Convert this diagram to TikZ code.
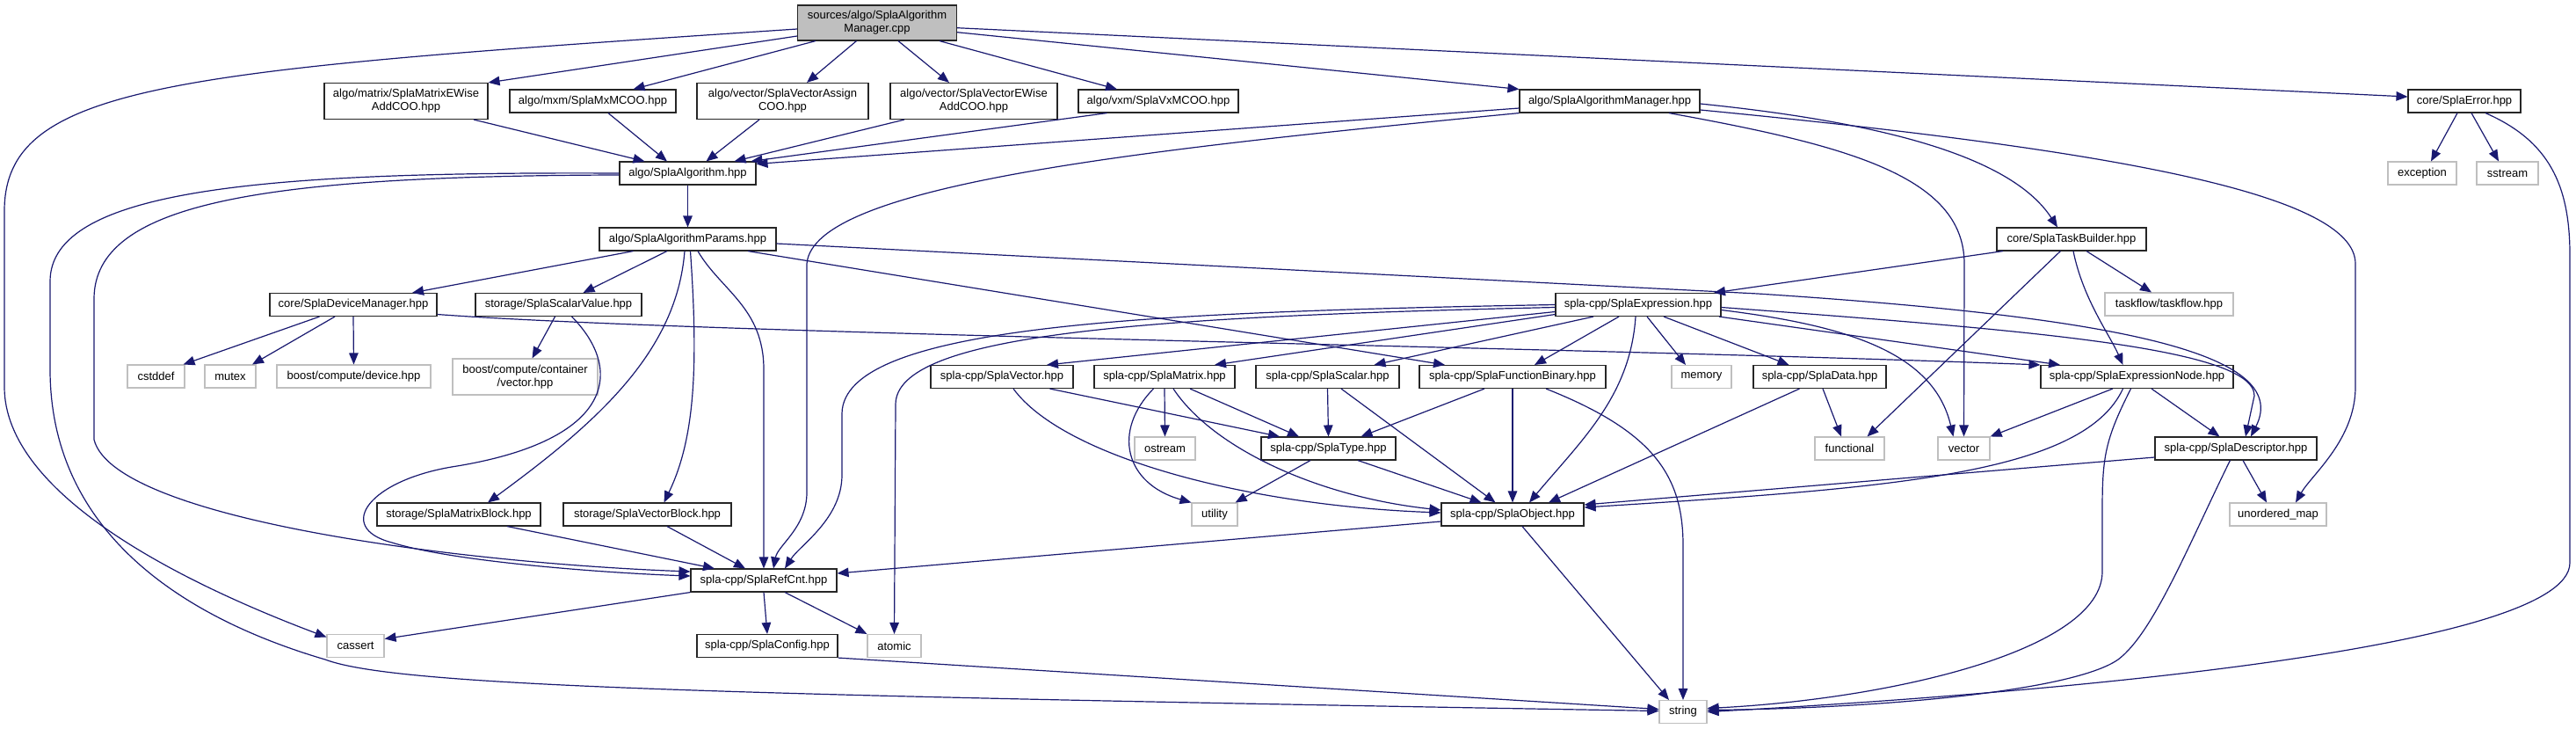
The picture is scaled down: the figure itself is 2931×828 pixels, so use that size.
\documentclass[tikz,border=0pt]{standalone}
\usepackage{fontspec}
\setmainfont{Liberation Sans}
\usetikzlibrary{arrows.meta}
\definecolor{edgec}{HTML}{191970}
\definecolor{gfill}{HTML}{BFBFBF}
\definecolor{gbord}{HTML}{BFBFBF}
\definecolor{dbord}{HTML}{262626}
\tikzset{
  base/.style={draw, font=\fontsize{13}{15}\selectfont, align=center, inner xsep=6pt, inner ysep=0pt, minimum height=26pt, line width=1.1pt, fill=white},
  hdr/.style={base, draw=dbord},
  sys/.style={base, draw=gbord},
  two/.style={minimum height=41pt},
  rootn/.style={hdr, fill=gfill, minimum height=40pt},
  e/.style={draw=edgec, line width=1.2pt, -{Triangle[length=13pt,width=10.5pt]}}
}
\begin{document}
\begin{tikzpicture}[x=1pt,y=-1pt]
\fill[white] (0,0) rectangle (2931,828);
\useasboundingbox (0,0) rectangle (2931,828);
% nodes
\node[rootn, minimum width=181pt] (root) at (998,26) {sources/algo/SplaAlgorithm\\Manager.cpp};
\node[hdr, two, minimum width=186pt] (mew) at (462,115) {algo/matrix/SplaMatrixEWise\\AddCOO.hpp};
\node[hdr, minimum width=189pt] (mxm) at (674.5,115) {algo/mxm/SplaMxMCOO.hpp};
\node[hdr, two, minimum width=195pt] (vas) at (890.5,115) {algo/vector/SplaVectorAssign\\COO.hpp};
\node[hdr, two, minimum width=190pt] (vew) at (1108,115) {algo/vector/SplaVectorEWise\\AddCOO.hpp};
\node[hdr, minimum width=182pt] (vxm) at (1318,115) {algo/vxm/SplaVxMCOO.hpp};
\node[hdr, minimum width=205pt] (mgr) at (1831.5,115) {algo/SplaAlgorithmManager.hpp};
\node[hdr, minimum width=128pt] (err) at (2804,115) {core/SplaError.hpp};
\node[hdr, minimum width=155pt] (alg) at (782.5,197) {algo/SplaAlgorithm.hpp};
\node[sys, minimum width=78pt] (exc) at (2756,197) {exception};
\node[sys, minimum width=70pt] (sst) at (2853,197) {sstream};
\node[hdr, minimum width=170pt] (tb) at (2357,272) {core/SplaTaskBuilder.hpp};
\node[hdr, minimum width=201pt] (par) at (782.5,272) {algo/SplaAlgorithmParams.hpp};
\node[hdr, minimum width=190pt] (dm) at (402,346.5) {core/SplaDeviceManager.hpp};
\node[hdr, minimum width=189pt] (sv) at (635.5,346.5) {storage/SplaScalarValue.hpp};
\node[sys, minimum width=65pt] (csd) at (177.5,428) {cstddef};
\node[sys, minimum width=58pt] (mtx) at (262,428) {mutex};
\node[sys, minimum width=175pt] (bcd) at (402.5,428) {boost/compute/device.hpp};
\node[sys, two, minimum width=165pt] (bcv) at (597.5,428.5) {boost/compute/container\\/vector.hpp};
\node[hdr, minimum width=188pt] (expr) at (1864,346.5) {spla-cpp/SplaExpression.hpp};
\node[sys, minimum width=146pt] (tf) at (2468,346) {taskflow/taskflow.hpp};
\node[hdr, minimum width=162pt] (vec) at (1140,428.5) {spla-cpp/SplaVector.hpp};
\node[hdr, minimum width=160pt] (mat) at (1325,428.5) {spla-cpp/SplaMatrix.hpp};
\node[hdr, minimum width=163pt] (sca) at (1510.5,428.5) {spla-cpp/SplaScalar.hpp};
\node[hdr, minimum width=212pt] (fb) at (1721,428.5) {spla-cpp/SplaFunctionBinary.hpp};
\node[sys, minimum width=68pt] (mem) at (1936,428.5) {memory};
\node[hdr, minimum width=151pt] (dat) at (2070.5,428.5) {spla-cpp/SplaData.hpp};
\node[hdr, minimum width=219pt] (en) at (2431.5,428.5) {spla-cpp/SplaExpressionNode.hpp};
\node[sys, minimum width=69pt] (ost) at (1325.5,510) {ostream};
\node[hdr, minimum width=153pt] (typ) at (1511.5,510) {spla-cpp/SplaType.hpp};
\node[sys, minimum width=79pt] (fun) at (2104.5,510) {functional};
\node[sys, minimum width=59pt] (vct) at (2234.5,510) {vector};
\node[hdr, minimum width=184pt] (desc) at (2544,510) {spla-cpp/SplaDescriptor.hpp};
\node[hdr, minimum width=186pt] (mb) at (522,585) {storage/SplaMatrixBlock.hpp};
\node[hdr, minimum width=191pt] (vb) at (736.5,585) {storage/SplaVectorBlock.hpp};
\node[sys, minimum width=52pt] (uti) at (1382,585) {utility};
\node[hdr, minimum width=162pt] (obj) at (1721,585) {spla-cpp/SplaObject.hpp};
\node[sys, minimum width=110pt] (um) at (2592,585) {unordered\_map};
\node[hdr, minimum width=166pt] (rc) at (869,660) {spla-cpp/SplaRefCnt.hpp};
\node[sys, minimum width=65pt] (cas) at (404.5,734.5) {cassert};
\node[hdr, minimum width=160pt] (cfg) at (873,734.5) {spla-cpp/SplaConfig.hpp};
\node[sys, minimum width=61pt] (ato) at (1017.5,734.5) {atomic};
\node[sys, minimum width=54pt] (str) at (1915,809.5) {string};
% edges from root
\draw[e] ([yshift=-7]root.west) .. controls (200,80) and (5,95) .. (5,240) -- (5,440) .. controls (5,560) and (200,660) .. ([yshift=10]cas.west);
\draw[e] ([yshift=-15]root.west) -- (mew.north east);
\draw[e] ([xshift=-70]root.south) -- ([xshift=46]mxm.north);
\draw[e] ([xshift=-23.5]root.south) -- ([xshift=27.5]vas.north);
\draw[e] ([xshift=24]root.south) -- ([xshift=-28]vew.north);
\draw[e] ([xshift=71]root.south) -- ([xshift=-47]vxm.north);
\draw[e] ([yshift=-10.7]root.east) -- (mgr.north west);
\draw[e] ([yshift=-5.7]root.east) -- ([yshift=5]err.west);
% into SplaAlgorithm
\draw[e] ([xshift=77]mew.south) -- ([xshift=-49]alg.north);
\draw[e] ([xshift=17.5]mxm.south) -- ([xshift=-23.5]alg.north);
\draw[e] ([xshift=-26.5]vas.south) -- ([xshift=21]alg.north);
\draw[e] ([xshift=-79]vew.south) -- ([xshift=53]alg.north);
\draw[e] ([xshift=-58.5]vxm.south) -- ([xshift=72]alg.north);
\draw[e] ([yshift=-8]mgr.west) -- ([yshift=-3]alg.north east);
% manager
\draw[e] (mgr.south west) .. controls (1300,170) and (925,210) .. (918,300) -- (918,560) .. controls (918,600) and (885,620) .. ([xshift=11]rc.north);
\draw[e] ([yshift=-3]mgr.east) .. controls (2150,140) and (2290,180) .. ([xshift=-16]tb.north);
\draw[e] ([xshift=67.5]mgr.south) .. controls (2100,165) and (2235,200) .. (2235,300) -- (vct.north);
\draw[e] ([yshift=-10]mgr.east) .. controls (2400,170) and (2680,220) .. (2680,300) -- (2680,440) .. controls (2680,500) and (2630,540) .. ([xshift=20]um.north);
% error
\draw[e] ([xshift=-8]err.south) -- ([xshift=10]exc.north);
\draw[e] ([xshift=8]err.south) -- ([xshift=-10]sst.north);
\draw[e] ([xshift=24]err.south) .. controls (2900,160) and (2924,210) .. (2924,290) -- (2924,640) .. controls (2924,740) and (2300,790) .. (str.east);
% algorithm
\draw[e] (alg.south) -- (par.north);
\draw[e] ([yshift=-2]alg.west) .. controls (300,200) and (107,230) .. (107,340) -- (107,500) .. controls (130,590) and (520,640) .. ([yshift=10]rc.west);
\draw[e] (alg.west) .. controls (300,195) and (57,215) .. (57,320) -- (57,420) .. controls (57,600) and (200,700) .. (370,750) .. controls (450,780) and (800,790) .. ([yshift=1]str.west);
% params
\draw[e] ([xshift=-62]par.south) -- ([xshift=67]dm.north);
\draw[e] ([xshift=-23.5]par.south) -- ([xshift=28]sv.north);
\draw[e] ([xshift=-3.5]par.south) .. controls (770,400) and (680,480) .. ([xshift=33]mb.north);
\draw[e] ([xshift=3]par.south) .. controls (795,420) and (790,500) .. ([xshift=19]vb.north);
\draw[e] ([xshift=11.5]par.south) .. controls (820,330) and (869,350) .. (869,420) -- (rc.north);
\draw[e] ([xshift=68.5]par.south) -- ([xshift=-77]fb.north);
\draw[e] ([yshift=-5]par.east) -- (2000,334) .. controls (2400,360) and (2610,400) .. ([xshift=17]desc.north);
% device manager
\draw[e] ([xshift=-38.5]dm.south) -- ([xshift=-2]csd.north east);
\draw[e] ([xshift=-21]dm.south) -- ([xshift=25]mtx.north);
\draw[e] (dm.south) -- (bcd.north);
\draw[e] ([yshift=-11]dm.east) .. controls (800,380) and (1800,395) .. (en.north west);
% scalar value
\draw[e] ([xshift=-4]sv.south) -- ([xshift=8]bcv.north);
\draw[e] ([xshift=15]sv.south) .. controls (710,420) and (700,500) .. (520,530) .. controls (420,545) and (380,600) .. (446,617) .. controls (520,640) and (700,652) .. ([yshift=5]rc.west);
% task builder
\draw[e] ([xshift=-78]tb.south) -- ([xshift=86]expr.north);
\draw[e] ([xshift=17]tb.south) -- ([xshift=-20]tf.north);
\draw[e] ([xshift=-12.6]tb.south) -- ([xshift=20]fun.north);
\draw[e] ([xshift=2]tb.south) .. controls (2370,340) and (2400,380) .. ([xshift=-16]en.north);
% expression
\draw[e] ([yshift=-8]expr.west) -- ([xshift=51]vec.north);
\draw[e] ([yshift=-11]expr.west) -- ([xshift=57]mat.north);
\draw[e] ([xshift=-51]expr.south) -- ([xshift=53]sca.north);
\draw[e] ([xshift=-22]expr.south) -- ([xshift=25]fb.north);
\draw[e] ([xshift=10]expr.south) -- ([xshift=-18]mem.north);
\draw[e] ([xshift=29]expr.south) -- ([xshift=-35]dat.north);
\draw[e] ([xshift=92]expr.south) -- ([xshift=-87.5]en.north);
\draw[e] ([yshift=-3]expr.east) .. controls (2300,375) and (2565,395) .. (2565,450) -- ([xshift=11]desc.north);
\draw[e] ([yshift=-6]expr.east) .. controls (2100,370) and (2200,400) .. ([xshift=-12]vct.north);
\draw[e] ([xshift=-3]expr.south) .. controls (1855,450) and (1800,500) .. ([xshift=19]obj.north);
\draw[e] (expr.west) .. controls (1300,355) and (960,370) .. (958,470) -- (958,540) .. controls (958,590) and (910,620) .. ([xshift=24]rc.north);
\draw[e] ([yshift=-3]expr.west) .. controls (1300,360) and (1019,380) .. (1019,460) -- (ato.north);
% vector, matrix, scalar, function
\draw[e] ([xshift=54.5]vec.south) -- ([xshift=-55.5]typ.north);
\draw[e] ([xshift=13]vec.south) .. controls (1210,520) and (1420,575) .. ([yshift=2]obj.west);
\draw[e] (mat.south) -- (ost.north);
\draw[e] ([xshift=29]mat.south) -- ([xshift=-33.5]typ.north);
\draw[e] ([xshift=-12.5]mat.south) .. controls (1265,490) and (1280,550) .. (uti.north west);
\draw[e] ([xshift=10]mat.south) .. controls (1380,510) and (1500,565) .. ([yshift=5]obj.west);
\draw[e] (sca.south) -- (typ.north);
\draw[e] ([xshift=15.5]sca.south) -- ([xshift=-19.5]obj.north);
\draw[e] ([xshift=-32]fb.south) -- ([xshift=37]typ.north);
\draw[e] (fb.south) -- (obj.north);
\draw[e] ([xshift=38]fb.south) .. controls (1880,490) and (1915,540) .. (1915,620) -- (str.north);
% data, expression node
\draw[e] ([xshift=3.5]dat.south) -- ([xshift=-9.5]fun.north);
\draw[e] ([xshift=-23]dat.south) -- ([xshift=41]obj.north);
\draw[e] ([xshift=-27.7]en.south) -- (vct.north east);
\draw[e] ([xshift=16.5]en.south) -- ([xshift=-18.5]desc.north);
\draw[e] ([xshift=-16]en.south) .. controls (2370,540) and (2150,555) .. ([yshift=8]obj.east);
\draw[e] ([xshift=-7]en.south) .. controls (2395,500) and (2392,520) .. (2392,580) -- (2392,650) .. controls (2392,740) and (2150,795) .. ([yshift=4]str.east);
% type, descriptor
\draw[e] ([xshift=-20.5]typ.south) -- ([xshift=-3]uti.north east);
\draw[e] ([xshift=33.5]typ.south) -- ([xshift=-35.5]obj.north);
\draw[e] ([yshift=-10]desc.west) -- ([yshift=11]obj.east);
\draw[e] ([xshift=8]desc.south) -- ([xshift=-13]um.north);
\draw[e] ([xshift=-6.6]desc.south) .. controls (2490,620) and (2450,720) .. (2410,750) .. controls (2360,785) and (2150,805) .. ([yshift=2]str.east);
% blocks, object, refcnt, config
\draw[e] ([xshift=55]mb.south) -- ([xshift=-56]rc.north);
\draw[e] ([xshift=22.5]vb.south) -- ([xshift=-21]rc.north);
\draw[e] ([yshift=-8]obj.west) -- ([yshift=8]rc.east);
\draw[e] ([xshift=11]obj.south) -- ([xshift=-16]str.north);
\draw[e] (rc.south west) -- ([yshift=8]cas.east);
\draw[e] (rc.south) -- (cfg.north);
\draw[e] ([xshift=24]rc.south) -- (ato.north west);
\draw[e] (cfg.south east) -- ([yshift=3]str.west);
\end{tikzpicture}
\end{document}
